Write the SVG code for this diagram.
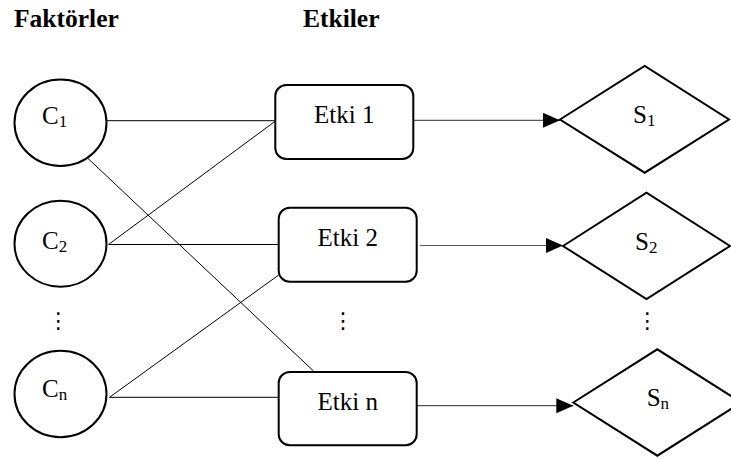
<svg xmlns="http://www.w3.org/2000/svg" width="731" height="459" viewBox="0 0 731 459">
  <style>
    .hdr { font-family: "Liberation Serif", "Times New Roman", serif; font-weight: bold; font-size: 25.5px; fill: #000; }
    .lbl { font-family: "Liberation Serif", "Times New Roman", serif; font-size: 25px; fill: #000; }
    .sub { font-size: 17px; }
    .dots { font-family: "DejaVu Sans", sans-serif; font-size: 22px; fill: #000; text-anchor: middle; }
    .node { fill: #fff; stroke: #000; stroke-width: 2; }
    .edge { fill: none; stroke: #000; stroke-width: 1; }
    .flow { fill: none; stroke: #555; stroke-width: 1.2; marker-end: url(#arrow); }
  </style>
  <defs>
    <marker id="arrow" markerUnits="userSpaceOnUse" markerWidth="18" markerHeight="16" refX="17" refY="7.5" orient="auto">
      <path d="M0,0 L17,7.5 L0,15 Z" fill="#000"/>
    </marker>
  </defs>

  <rect width="731" height="459" fill="#fff"/>

  <!-- column headings -->
  <text class="hdr" x="14" y="27">Faktörler</text>
  <text class="hdr" x="303" y="27">Etkiler</text>

  <!-- factor-to-effect links and effect-to-outcome arrows -->
  <g id="connectors">
    <line class="edge" x1="107" y1="120.7" x2="275.5" y2="120.7"/>
    <line class="edge" x1="108.5" y1="244.5" x2="275.5" y2="121"/>
    <line class="edge" x1="87.5" y1="158" x2="313.5" y2="371"/>
    <line class="edge" x1="108.5" y1="244.5" x2="278.7" y2="244.5"/>
    <line class="edge" x1="109.5" y1="397.3" x2="278.7" y2="275"/>
    <line class="edge" x1="109.5" y1="397.3" x2="278.7" y2="397.3"/>
    <line class="flow" x1="413.3" y1="120.3" x2="560" y2="120.3"/>
    <line class="flow" x1="420" y1="245.5" x2="563" y2="245.5"/>
    <line class="flow" x1="416.7" y1="405.7" x2="573.3" y2="405.7"/>
  </g>

  <!-- factors -->
  <g id="c1">
    <ellipse class="node" cx="60.5" cy="122.7" rx="46" ry="43.2"/>
    <text class="lbl" x="42" y="123.5">C<tspan class="sub" dy="3">1</tspan></text>
  </g>
  <g id="c2">
    <ellipse class="node" cx="60.5" cy="243.7" rx="46" ry="43"/>
    <text class="lbl" x="42" y="248.5">C<tspan class="sub" dy="3">2</tspan></text>
  </g>
  <g id="cn">
    <ellipse class="node" cx="60.5" cy="394" rx="46" ry="43.2"/>
    <text class="lbl" x="42" y="396.7">C<tspan class="sub" dy="3">n</tspan></text>
  </g>

  <!-- effects -->
  <g id="etki1">
    <rect class="node" x="275.3" y="85" width="138" height="74" rx="11"/>
    <text class="lbl" x="344.3" y="123.3" text-anchor="middle">Etki 1</text>
  </g>
  <g id="etki2">
    <rect class="node" x="278.7" y="207.7" width="138" height="74" rx="11"/>
    <text class="lbl" x="347.7" y="245.5" text-anchor="middle">Etki 2</text>
  </g>
  <g id="etkin">
    <rect class="node" x="278.7" y="372" width="138" height="73.3" rx="11"/>
    <text class="lbl" x="347.7" y="410" text-anchor="middle">Etki n</text>
  </g>

  <!-- outcomes -->
  <g id="s1">
    <polygon class="node" points="560,119.5 644.7,66 729,119.5 644.7,172.7"/>
    <text class="lbl" x="633" y="123">S<tspan class="sub" dy="3">1</tspan></text>
  </g>
  <g id="s2">
    <polygon class="node" points="563,246 646.5,192.7 730,246 646.5,299"/>
    <text class="lbl" x="635" y="250">S<tspan class="sub" dy="3">2</tspan></text>
  </g>
  <g id="sn">
    <polygon class="node" points="573.3,402.5 657.3,349.3 741.3,402.5 657.3,455.7"/>
    <text class="lbl" x="646.7" y="406">S<tspan class="sub" dy="3">n</tspan></text>
  </g>

  <!-- continuation marks -->
  <text class="dots" x="58.3" y="328">⋮</text>
  <text class="dots" x="343" y="328">⋮</text>
  <text class="dots" x="647.3" y="328">⋮</text>
</svg>
